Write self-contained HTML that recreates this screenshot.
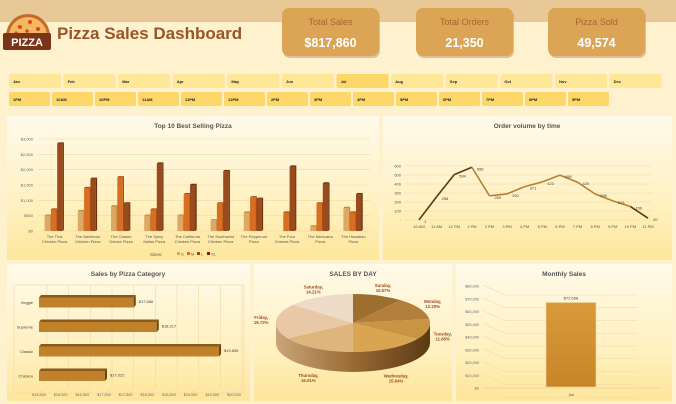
<!DOCTYPE html>
<html><head><meta charset="utf-8">
<style>
html,body{margin:0;padding:0;width:676px;height:404px;overflow:hidden;background:#fef1cd;font-family:"Liberation Sans",sans-serif}
svg text{font-family:"Liberation Sans",sans-serif}
</style></head>
<body>
<svg id="s" width="676" height="404" viewBox="0 0 676 404" xmlns="http://www.w3.org/2000/svg">
<defs>
<linearGradient id="pg" x1="0" y1="0" x2="0" y2="1"><stop offset="0" stop-color="#fffaea"/><stop offset="0.6" stop-color="#fff1c2"/><stop offset="1" stop-color="#fee69a"/></linearGradient>
<linearGradient id="side" x1="0" y1="0" x2="1" y2="0"><stop offset="0" stop-color="#c9a57a"/><stop offset="0.5" stop-color="#9a6a34"/><stop offset="1" stop-color="#5a3a14"/></linearGradient>
<linearGradient id="mb" x1="0" y1="0" x2="0" y2="1"><stop offset="0" stop-color="#d99a3a"/><stop offset="1" stop-color="#c8852a"/></linearGradient>
</defs>
<rect x="0" y="0" width="676" height="22" fill="#e9c898"/>
<g>
<path d="M6,36 A22,22 0 0 1 50,36 Z" fill="#c46a2a"/>
<path d="M9,36 A19,19 0 0 1 47,36 Z" fill="#f4b860"/>
<circle cx="20" cy="27" r="2" fill="#e0432a"/><circle cx="30" cy="22" r="2" fill="#e0432a"/><circle cx="38" cy="29" r="2" fill="#e0432a"/><circle cx="27" cy="31" r="1.8" fill="#e0432a"/><circle cx="16" cy="33" r="1.6" fill="#e0432a"/>
<rect x="3" y="33" width="48" height="17" rx="2" fill="#7a3418"/>
<text x="27" y="46" font-size="11" font-weight="bold" fill="#fff" text-anchor="middle">PIZZA</text>
</g>
<text x="57" y="39" font-size="17" font-weight="bold" fill="#9a5527">Pizza Sales Dashboard</text>
<g id="kpis"></g>
<g id="slicers"></g>
<rect x="7" y="116" width="372" height="144" fill="url(#pg)"/>
<rect x="383" y="116" width="289" height="144" fill="url(#pg)"/>
<rect x="7" y="264" width="243" height="137" fill="url(#pg)"/>
<rect x="254" y="264" width="198" height="137" fill="url(#pg)"/>
<rect x="456" y="264" width="216" height="137" fill="url(#pg)"/>
<text x="193" y="128" font-size="6.5" font-weight="bold" fill="#555" text-anchor="middle">Top 10  Best Selling Pizza</text>
<text x="527" y="128" font-size="6.5" font-weight="bold" fill="#555" text-anchor="middle">Order volume by time</text>
<text x="128" y="276" font-size="6.5" font-weight="bold" fill="#555" text-anchor="middle">Sales by Pizza Category</text>
<text x="353" y="276" font-size="6.5" font-weight="bold" fill="#555" text-anchor="middle">SALES BY DAY</text>
<text x="564" y="276" font-size="6.5" font-weight="bold" fill="#555" text-anchor="middle">Monthly Sales</text>
<g id="top10"></g><g id="line"></g><g id="cat"></g><g id="pie"></g><g id="month"></g>
</svg>
<script>
const NS="http://www.w3.org/2000/svg";
const kpiLabels=["Total Sales","Total Orders","Pizza Sold"];
const kpiValues=["$817,860","21,350","49,574"];
const months=["Jan","Feb","Mar","Apr","May","Jun","Jul","Aug","Sep","Oct","Nov","Dec"];
const hours=["1 PM","10 AM","10 PM","11 AM","11 PM","12 PM","2 PM","3 PM","4 PM","5 PM","6 PM","7 PM","8 PM","9 PM"];
const pizzas=[["The Thai","Chicken Pizza"],["The Barbecue","Chicken Pizza"],["The Classic","Deluxe Pizza"],["The Spicy","Italian Pizza"],["The California","Chicken Pizza"],["The Southwest","Chicken Pizza"],["The Pepperoni","Pizza"],["The Four","Cheese Pizza"],["The Mexicana","Pizza"],["The Hawaiian","Pizza"]];
const sizeS=[500,650,800,500,500,350,600,0,150,750];
const sizeM=[700,1400,1750,700,1200,900,1100,600,900,600];
const sizeL=[2850,1700,900,2200,1500,1950,1050,2100,1550,1200];
const top10Ticks=[0,500,1000,1500,2000,2500,3000];
const timeLabels=["10 AM","11 AM","12 PM","1 PM","2 PM","3 PM","4 PM","5 PM","6 PM","7 PM","8 PM","9 PM","10 PM","11 PM"];
const orders=[1,258,504,586,269,290,371,423,498,420,289,213,150,20];
const orderTicks=[0,100,200,300,400,500,600];
const categories=["Chicken","Classic","Supreme","Veggie"];
const catSales=[17022,19655,18217,17686];
const catTicks=[15500,16000,16500,17000,17500,18000,18500,19000,19500,20000];
const days=["Sunday","Monday","Tuesday","Wednesday","Thursday","Friday","Saturday"];
const dayPct=[10.57,12.20,11.65,15.64,16.01,19.72,14.21];
const monthCats=["Jul"];
const monthSales=[72558];
const monthTicks=[0,10000,20000,30000,40000,50000,60000,70000,80000];

function el(tag,attrs,parent,txt){const e=document.createElementNS(NS,tag);for(const k in attrs)e.setAttribute(k,attrs[k]);if(txt!==undefined)e.textContent=txt;parent.appendChild(e);return e;}
const fmt=v=>"$"+v.toLocaleString("en-US");

const kg=document.getElementById("kpis");
const kx=[282,416,548];
kpiLabels.forEach((l,i)=>{
  const g=el("g",{},kg);
  
  
  el("rect",{x:kx[i]+1,y:10,width:97,height:48,rx:7,fill:"#b99060",opacity:0.5},g);
  el("rect",{x:kx[i],y:8,width:97,height:48,rx:7,fill:"#dba555"},g);
  el("text",{x:kx[i]+48.5,y:25,"font-size":9,fill:"#a5652f","text-anchor":"middle"},g,l);
  el("text",{x:kx[i]+48.5,y:47,"font-size":12.5,"font-weight":"bold",fill:"#fff","text-anchor":"middle"},g,kpiValues[i]);
});
const sg=document.getElementById("slicers");
months.forEach((m,i)=>{
  const g=el("g",{},sg);
  
  
  const x=9+i*54.6;
  el("rect",{x:x,y:74,width:52,height:14,rx:2,fill:m==="Jul"?"#fdd868":"#fee898"},g);
  el("text",{x:x+4,y:83,"font-size":4,"font-weight":"bold",fill:"#222"},g,m);
});
hours.forEach((h,i)=>{
  const g=el("g",{},sg);
  
  
  const x=9+i*43;
  el("rect",{x:x,y:92,width:41,height:14,rx:2,fill:"#fdd868"},g);
  el("text",{x:x+4,y:101,"font-size":4,"font-weight":"bold",fill:"#222"},g,h.replace(" ",""));
});

(function(){
  const g=document.getElementById("top10");
  const x0=38,x1=370,yb=231,yt=139,max=3000;
  const y=v=>yb-(v/max)*(yb-yt);
  top10Ticks.forEach(t=>{
    el("line",{x1:x0,x2:x1,y1:y(t),y2:y(t),stroke:"#f0d8a8","stroke-width":0.6},g);
    el("text",{x:33,y:y(t)+1.5,"font-size":4,fill:"#666","text-anchor":"end"},g,fmt(t));
  });
  const cw=(x1-x0)/pizzas.length;
  const series=[[sizeS,"#dca864","#b88844"],[sizeM,"#d96d22","#a84e12"],[sizeL,"#9b4a1c","#6a3010"]];
  pizzas.forEach((p,i)=>{
    const cx=x0+cw*i+cw/2;
    series.forEach((s,j)=>{
      const v=s[0][i]; if(v<=0) return;
      const bx=cx-10+j*6.3, h=yb-y(v);
      const r=el("rect",{x:bx,y:y(v),width:5.5,height:h,fill:s[1]},g);
      
      
      el("path",{d:`M${bx+5.5},${y(v)} l1.2,-1.2 v${h} l-1.2,1.2 z`,fill:s[2]},g);
      el("path",{d:`M${bx},${y(v)} l1.2,-1.2 h5.5 l-1.2,1.2 z`,fill:s[2]},g);
    });
    el("text",{x:cx,y:238,"font-size":4,fill:"#555","text-anchor":"middle"},g,p[0]);
    el("text",{x:cx,y:243,"font-size":4,fill:"#555","text-anchor":"middle"},g,p[1]);
  });
  const lg=el("g",{},g);
  
  
  el("text",{x:150,y:256,"font-size":4.5,fill:"#555"},lg,"Sizes:");
  [["S","#dca864"],["M","#d96d22"],["L","#9b4a1c"],["XL","#7a2010"]].forEach((s,k)=>{
    el("rect",{x:177+k*10,y:252,width:3,height:3,fill:s[1]},lg);
    el("text",{x:181+k*10,y:255.5,"font-size":4,fill:"#555"},lg,s[0]);
  });
})();

(function(){
  const g=document.getElementById("line");
  const x0=419,x1=648,yb=220,yt=166,max=600;
  const y=v=>yb-(v/max)*(yb-yt);
  const x=i=>x0+i*(x1-x0)/(timeLabels.length-1);
  orderTicks.forEach(t=>{
    el("line",{x1:404,x2:652,y1:y(t),y2:y(t),stroke:"#f0d8a8","stroke-width":0.6},g);
    el("text",{x:401,y:y(t)+1.5,"font-size":4,fill:"#555","text-anchor":"end"},g,t===0?"-":t);
  });
  timeLabels.forEach((t,i)=>el("text",{x:x(i),y:228,"font-size":4,fill:"#555","text-anchor":"middle"},g,t));
  for(let i=0;i<orders.length-1;i++){
    const c=(i<3||i>11)?"#5a3a10":"#b8822e";
    el("line",{x1:x(i),y1:y(orders[i]),x2:x(i+1),y2:y(orders[i+1]),stroke:c,"stroke-width":1.6},g);
  }
  orders.forEach((v,i)=>{
    const t=el("text",{x:x(i)+5,y:y(v)+3,"font-size":4,fill:"#444"},g,v);
    
    
  });
})();

(function(){
  const g=document.getElementById("cat");
  const x0=39,x1=234,min=15500,max=20000;
  const x=v=>x0+(v-min)/(max-min)*(x1-x0);
  catTicks.forEach(t=>{
    el("line",{x1:x(t)+8,x2:x(t)+8,y1:285,y2:388,stroke:"#f0d8a8","stroke-width":0.6},g);
    el("line",{x1:x(t),x2:x(t)+8,y1:393,y2:388,stroke:"#f0d8a8","stroke-width":0.6},g);
    el("text",{x:x(t),y:396,"font-size":3.8,fill:"#666","text-anchor":"middle"},g,fmt(t));
  });
  el("rect",{x:14,y:285,width:230,height:108,fill:"none",stroke:"#f0d8a8","stroke-width":0.6},g);
  categories.forEach((c,i)=>{
    const yc=375-i*24.5;
    const w=x(catSales[i])-x0;
    const r=el("rect",{x:x0,y:yc-4,width:w,height:10,fill:"#c1802a"},g);
    
    
    el("path",{d:`M${x0},${yc-4} l2,-2.5 h${w} l-2,2.5 z`,fill:"#8a5a1a"},g);
    el("path",{d:`M${x0+w},${yc-4} l2,-2.5 v10 l-2,2.5 z`,fill:"#6a4410"},g);
    el("text",{x:33,y:yc+2.5,"font-size":4,fill:"#444","text-anchor":"end"},g,c);
    el("text",{x:x0+w+5,y:yc+1.5,"font-size":4,fill:"#444"},g,fmt(catSales[i]));
  });
})();

(function(){
  const g=document.getElementById("pie");
  const cx=353,cy=323,rx=77,ry=29,d=20;
  const cols=["#9c6e30","#b3803c","#c99444","#d9a552","#dfb57e","#e8c8a6","#eedcc8"];
  el("path",{d:`M${cx-rx},${cy} v${d} A${rx},${ry} 0 0 0 ${cx+rx},${cy+d} v${-d} A${rx},${ry} 0 0 1 ${cx-rx},${cy} z`,fill:"url(#side)"},g);
  let a=-Math.PI/2;
  const total=dayPct.reduce((s,v)=>s+v,0);
  dayPct.forEach((p,i)=>{
    const b=a+p/total*2*Math.PI;
    const large=(b-a)>Math.PI?1:0;
    const s=el("path",{d:`M${cx},${cy} L${cx+rx*Math.cos(a)},${cy+ry*Math.sin(a)} A${rx},${ry} 0 ${large} 1 ${cx+rx*Math.cos(b)},${cy+ry*Math.sin(b)} Z`,fill:cols[i]},g);
    
    
    const m=(a+b)/2;
    const sn=Math.sin(m);
    const lx=cx+92*Math.cos(m), ly=cy+36*sn+(sn>0?28*sn:0)-2;
    const t=el("text",{x:lx,y:ly,"font-size":4.3,"font-weight":"bold",fill:"#9a4a1c","text-anchor":"middle"},g);
    el("tspan",{x:lx},t,days[i]+",");
    el("tspan",{x:lx,dy:5},t,p.toFixed(2)+"%");
    a=b;
  });
})();

(function(){
  const g=document.getElementById("month");
  const yb=388,yt=286,max=80000;
  const y=v=>yb-(v/max)*(yb-yt);
  monthTicks.forEach(t=>{
    el("polyline",{points:`483,${y(t)-1} 505,${y(t)+9} 637,${y(t)+9}`,fill:"none",stroke:"#f0d8a8","stroke-width":0.6},g);
    el("text",{x:479,y:y(t)+1.5,"font-size":3.8,fill:"#666","text-anchor":"end"},g,fmt(t));
  });
  el("line",{x1:483,x2:660,y1:388,y2:388,stroke:"#e0c890","stroke-width":0.6},g);
  monthSales.forEach((v,i)=>{
    const r=el("rect",{x:546,y:y(v)+7,width:50,height:yb-y(v)-8,fill:"url(#mb)",stroke:"#f3d9a0","stroke-width":0.6},g);
    
    
    el("text",{x:571,y:y(v)+4,"font-size":4,fill:"#444","text-anchor":"middle"},g,fmt(v));
    el("text",{x:571,y:396,"font-size":4,fill:"#444","text-anchor":"middle"},g,monthCats[i]);
  });
})();
</script>
</body></html>
